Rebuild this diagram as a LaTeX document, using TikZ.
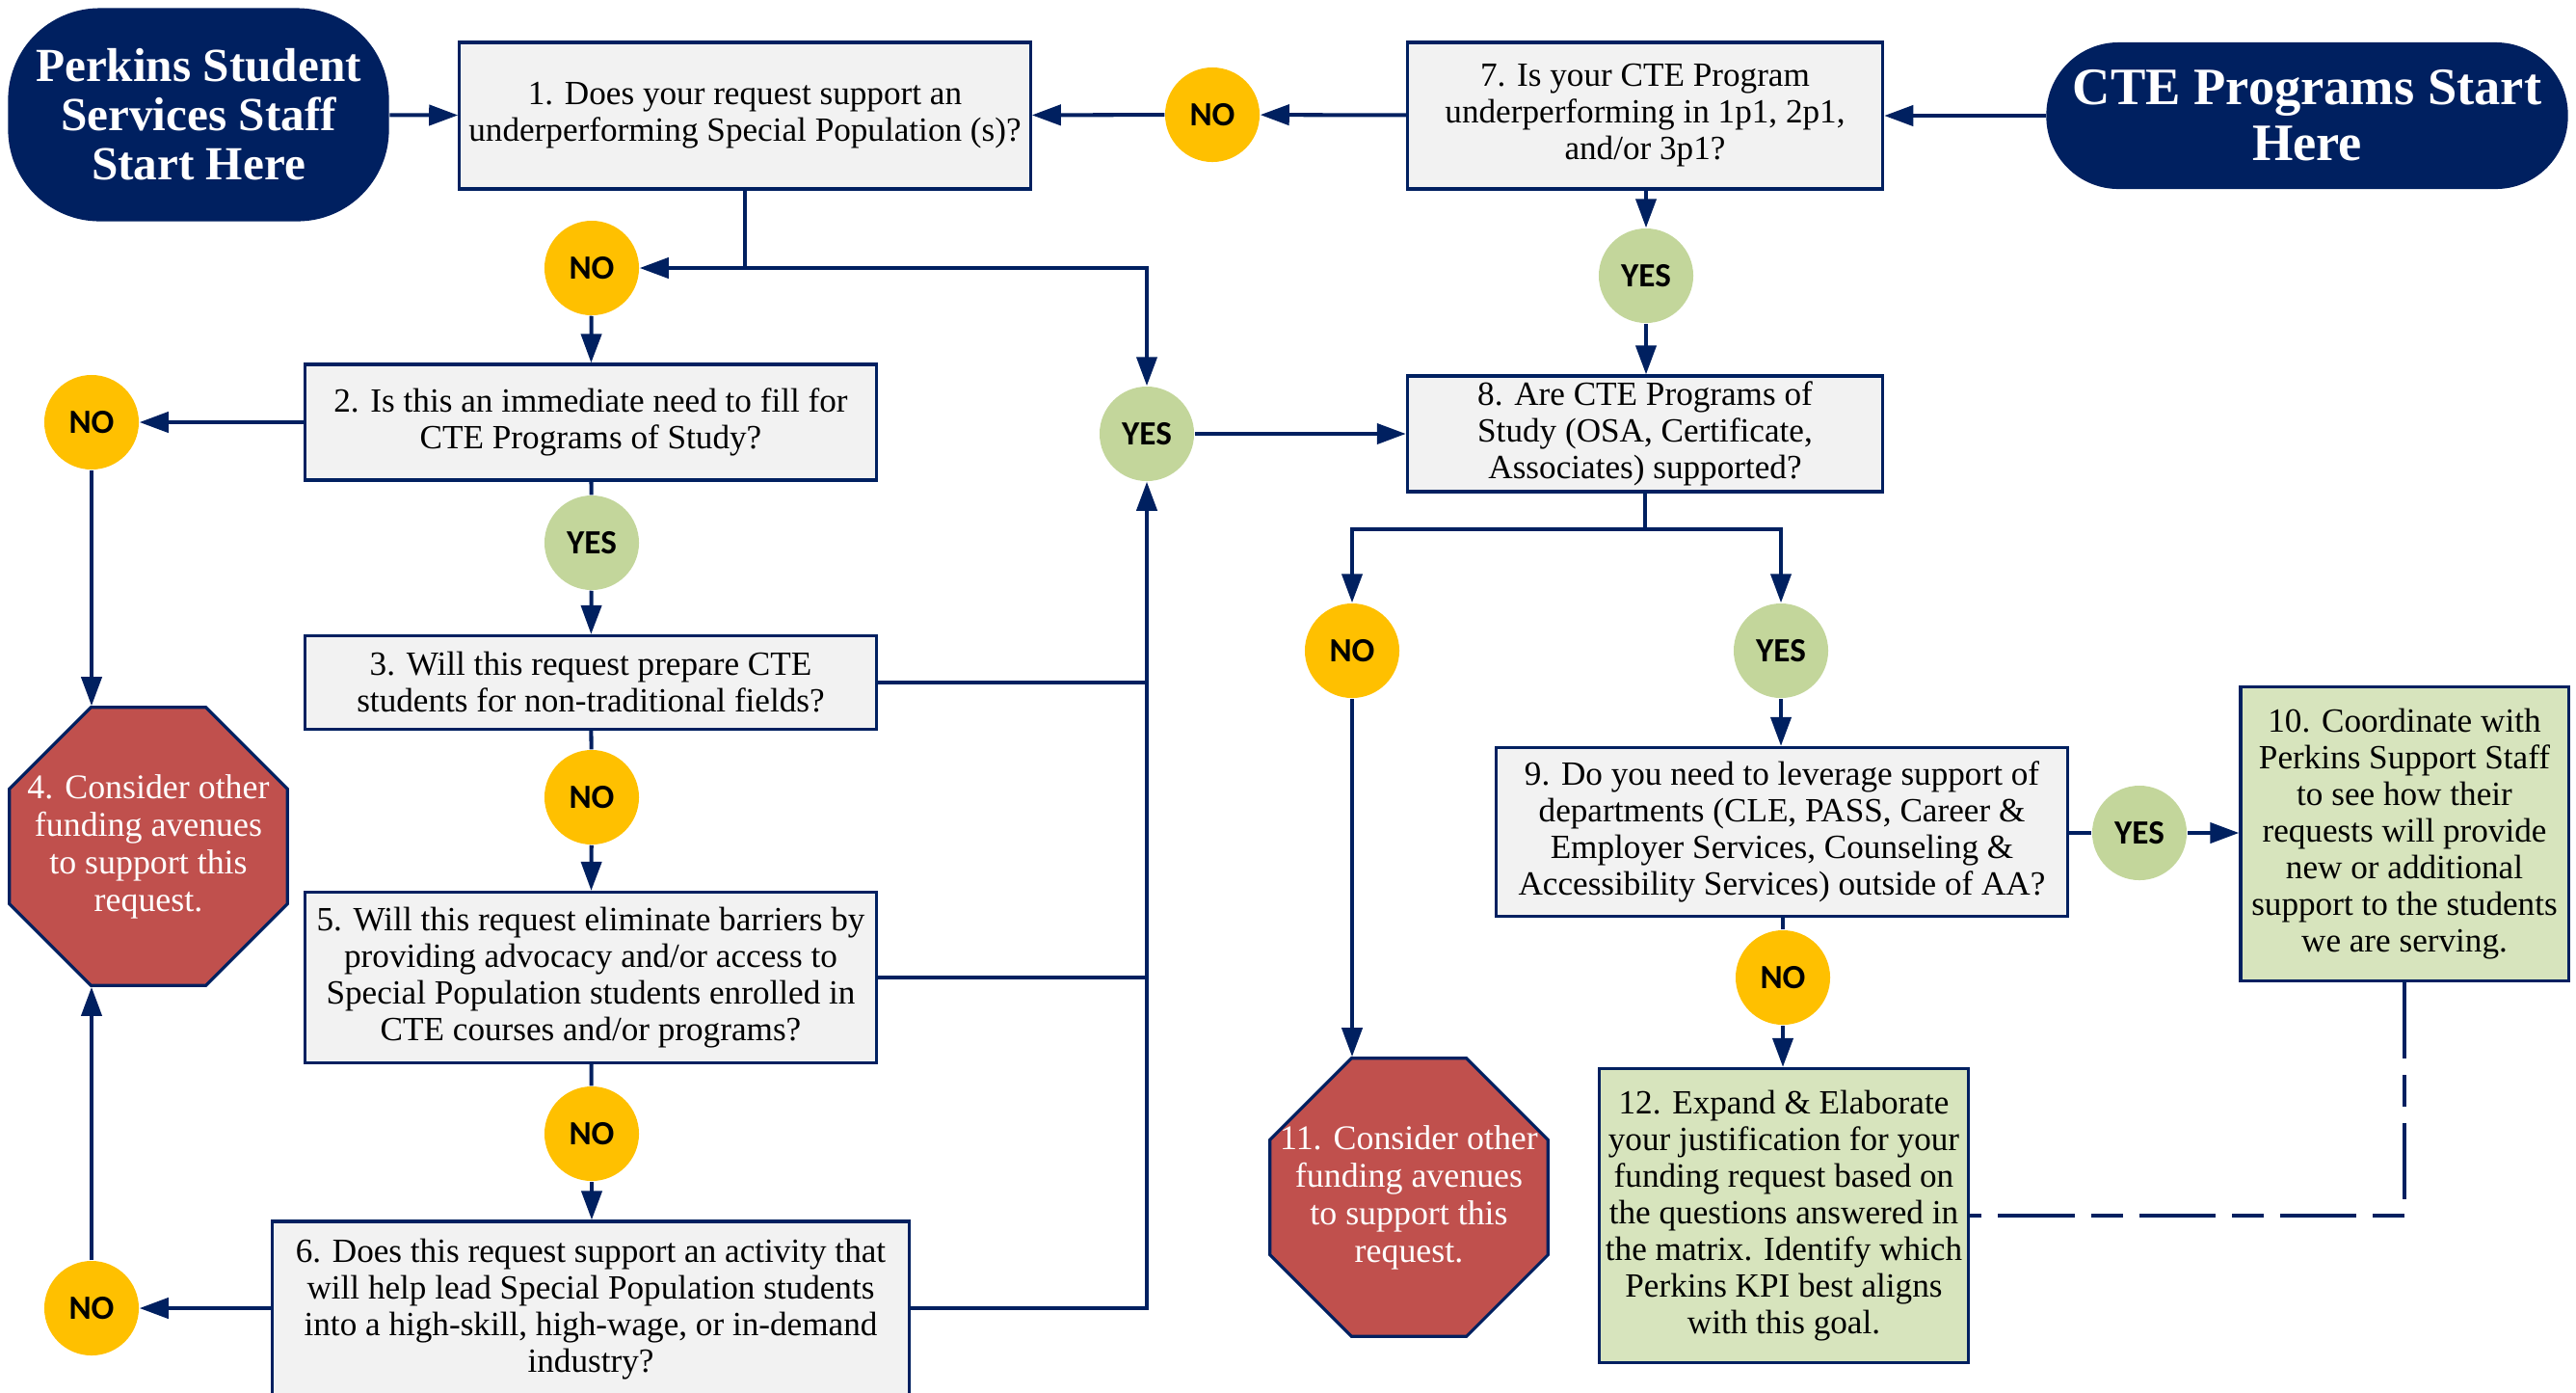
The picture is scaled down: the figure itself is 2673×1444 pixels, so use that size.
\documentclass[tikz,border=0pt]{standalone}
\usepackage{fontspec}
\setmainfont{Liberation Serif}
\newfontfamily\yesnofont{Carlito}
\usepackage{tikz}
\usetikzlibrary{arrows.meta,shapes.geometric}

\definecolor{navy}{HTML}{002060}
\definecolor{boxgray}{HTML}{F2F2F2}
\definecolor{boxgreen}{HTML}{D7E4BD}
\definecolor{yesgreen}{HTML}{C3D69B}
\definecolor{noyellow}{HTML}{FFC000}
\definecolor{stopred}{HTML}{C0504D}

\begin{document}
\begin{tikzpicture}[x=0.01cm, y=-0.01cm,
    link/.style={navy, line width=1.15pt},
    arrow/.style={link, -{Triangle[width=0.21cm, length=0.3cm]}},
    qbox/.style={draw=navy, line width=0.9pt, fill=boxgray, align=center,
      inner sep=0pt, font=\fontsize{10}{10.8}\selectfont,
      execute at begin node={\rule{0pt}{12pt}}},
    gbox/.style={qbox, fill=boxgreen},
    yesdot/.style={circle, fill=yesgreen, minimum size=0.98cm, inner sep=0pt,
      font=\yesnofont\bfseries\fontsize{10}{12}\selectfont},
    nodot/.style={yesdot, fill=noyellow},
    startbox/.style={fill=navy, text=white, align=center, inner sep=0pt},
    stopsign/.style={regular polygon, regular polygon sides=8, minimum size=3.12cm,
      inner sep=0pt, fill=stopred, draw=navy, line width=0.9pt},
    stoptext/.style={text=white, align=center, font=\fontsize{10.2}{11.1}\selectfont,
      execute at begin node={\rule{0pt}{12.5pt}}}]

    \useasboundingbox (0,0) rectangle (2673,1444);

    % start points
    \node[startbox, minimum width=3.95cm, minimum height=2.21cm, rounded corners=0.95cm,
      font=\bfseries\fontsize{14}{14.5}\selectfont] (start1) at (206,119)
      {Perkins Student\\Services Staff\\Start Here};
    \node[startbox, minimum width=5.41cm, minimum height=1.52cm, rounded corners=0.75cm,
      font=\bfseries\fontsize{15.5}{16.5}\selectfont] (start2) at (2394,120)
      {CTE Programs Start\\Here};

    % left column
    \node[qbox, minimum width=5.92cm, minimum height=1.52cm] (box1) at (773,120)
      {1. Does your request support an\\underperforming Special Population (s)?};
    \node[qbox, minimum width=5.92cm, minimum height=1.20cm] (box2) at (613,438)
      {2. Is this an immediate need to fill for\\CTE Programs of Study?};
    \node[qbox, minimum width=5.92cm, minimum height=0.97cm] (box3) at (613,708)
      {3. Will this request prepare CTE\\students for non-traditional fields?};
    \node[qbox, minimum width=5.92cm, minimum height=1.77cm] (box5) at (613,1014)
      {5. Will this request eliminate barriers by\\providing advocacy and/or access to\\Special Population students enrolled in\\CTE courses and/or programs?};
    \node[qbox, minimum width=6.60cm, minimum height=1.82cm] (box6) at (613,1358)
      {6. Does this request support an activity that\\will help lead Special Population students\\into a high-skill, high-wage, or in-demand\\industry?};
    \node[stopsign, label={[stoptext]center:{4. Consider other\\funding avenues\\to support this\\request.}}]
      (oct4) at (154,878) {};

    % right column
    \node[qbox, minimum width=4.93cm, minimum height=1.52cm] (box7) at (1707,120)
      {7. Is your CTE Program\\underperforming in 1p1, 2p1,\\and/or 3p1?};
    \node[qbox, minimum width=4.93cm, minimum height=1.20cm] (box8) at (1707,450)
      {8. Are CTE Programs of\\Study (OSA, Certificate,\\Associates) supported?};
    \node[qbox, minimum width=5.92cm, minimum height=1.75cm] (box9) at (1849,863)
      {9. Do you need to leverage support of\\departments (CLE, PASS, Career \&\\Employer Services, Counseling \&\\Accessibility Services) outside of AA?};
    \node[gbox, minimum width=3.40cm, minimum height=3.05cm] (box10) at (2495,865)
      {10. Coordinate with\\Perkins Support Staff\\to see how their\\requests will provide\\new or additional\\support to the students\\we are serving.};
    \node[gbox, minimum width=3.82cm, minimum height=3.05cm] (box12) at (1851,1261)
      {12. Expand \& Elaborate\\your justification for your\\funding request based on\\the questions answered in\\the matrix. Identify which\\Perkins KPI best aligns\\with this goal.};
    \node[stopsign, label={[stoptext]center:{11. Consider other\\funding avenues\\to support this\\request.}}]
      (oct11) at (1462,1242) {};

    % yes / no markers
    \node[nodot] (no1) at (1258,119) {NO};
    \node[nodot] (no2) at (614,278) {NO};
    \node[nodot] (no3) at (95,438) {NO};
    \node[yesdot] (yes3) at (614,563) {YES};
    \node[nodot] (no5) at (614,827) {NO};
    \node[nodot] (no6) at (614,1176) {NO};
    \node[nodot] (no4) at (95,1357) {NO};
    \node[yesdot] (yes8) at (1190,450) {YES};
    \node[yesdot] (yes7) at (1708,286) {YES};
    \node[nodot] (no11) at (1403,675) {NO};
    \node[yesdot] (yes9) at (1848,675) {YES};
    \node[yesdot] (yes10) at (2220,864) {YES};
    \node[nodot] (no12) at (1850,1014) {NO};

    \coordinate (split1) at (773,278);
    \coordinate (split8) at (1707,549);

    % connectors
    \draw[arrow] (start1) -- (box1);
    \draw[arrow] (start2) -- (box7);
    \draw[arrow] (box7) -- (no1);
    \draw[arrow] (no1) -- (box1);
    \draw[arrow] (box1.south) -- (split1) -- (no2);
    \draw[arrow] (split1) -| (yes8);
    \draw[arrow] (no2) -- (box2);
    \draw[arrow] (box2) -- (no3);
    \draw[arrow] (no3) -- (no3 |- oct4.north);
    \draw[link] (box2) -- (yes3);
    \draw[arrow] (yes3) -- (box3);
    \draw[link] (box3) -- (no5);
    \draw[arrow] (no5) -- (box5);
    \draw[link] (box5) -- (no6);
    \draw[arrow] (no6) -- (box6.north -| no6);
    \draw[arrow] (box6.west |- no4) -- (no4);
    \draw[arrow] (no4) -- (no4 |- oct4.south);
    \draw[link] (box3.east) -- (box3.east -| yes8);
    \draw[link] (box5.east) -- (box5.east -| yes8);
    \draw[arrow] (box6.east |- no4) -| (yes8);
    \draw[arrow] (yes8) -- (box8);
    \draw[arrow] (box7.south -| yes7) -- (yes7);
    \draw[arrow] (yes7) -- (box8.north -| yes7);
    \draw[arrow] (box8.south) -- (split8) -| (no11);
    \draw[arrow] (split8) -| (yes9);
    \draw[arrow] (no11) -- (no11 |- oct11.north);
    \draw[arrow] (yes9) -- (box9.north -| yes9);
    \draw[link] (box9.east |- yes10) -- (yes10);
    \draw[arrow] (yes10) -- (box10.west |- yes10);
    \draw[link] (box9.south -| no12) -- (no12);
    \draw[arrow] (no12) -- (box12.north -| no12);
    \draw[link, dash pattern=on 0.79cm off 0.17cm on 0.33cm off 0.17cm]
      (box10.south) |- (box12.east);
\end{tikzpicture}
\end{document}
